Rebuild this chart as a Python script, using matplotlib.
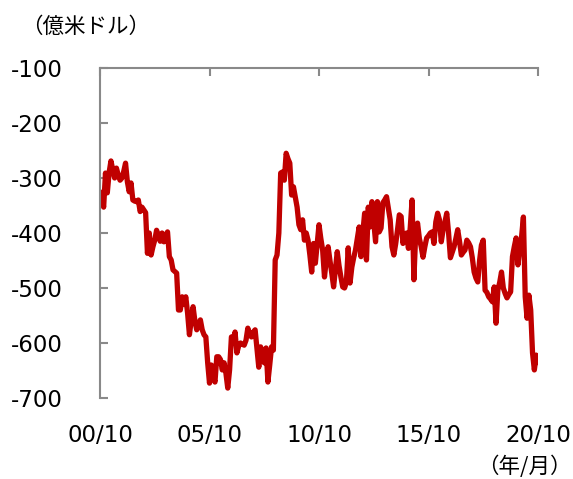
import numpy as np
import matplotlib
matplotlib.use("Agg")
import matplotlib.pyplot as plt

# monthly values, 2000/10 .. 2020/10 (億米ドル)
vals = [
    -327, -335, -353, -291, -327, -290, -269, -285, -300, -282, -295, -304,
    -300, -288, -273, -307, -325, -309, -340, -342, -343, -340, -361, -353,
    -358, -363, -437, -400, -440, -425, -413, -395, -405, -415, -400, -416,
    -405, -398, -443, -449, -467, -470, -473, -540, -540, -516, -530, -516,
    -546, -585, -558, -534, -560, -576, -565, -558, -576, -585, -589, -636,
    -673, -640, -660, -671, -625, -625, -630, -649, -636, -655, -682, -649,
    -589, -595, -580, -618, -605, -600, -602, -604, -595, -573, -585, -589,
    -580, -576, -609, -644, -607, -620, -636, -609, -671, -640, -607, -613,
    -449, -440, -400, -291, -289, -304, -255, -265, -273, -331, -316, -335,
    -353, -385, -394, -376, -413, -400, -413, -440, -471, -419, -455, -420,
    -385, -410, -431, -480, -449, -425, -450, -473, -498, -465, -434, -460,
    -480, -498, -500, -490, -427, -491, -462, -445, -431, -410, -389, -443,
    -400, -364, -449, -353, -389, -343, -380, -416, -343, -398, -391, -345,
    -340, -334, -355, -376, -425, -440, -420, -395, -367, -370, -419, -405,
    -400, -428, -390, -340, -485, -400, -382, -410, -425, -444, -425, -409,
    -405, -400, -398, -419, -380, -364, -376, -416, -394, -380, -364, -400,
    -445, -435, -425, -410, -394, -415, -440, -435, -431, -413, -418, -425,
    -445, -471, -482, -489, -450, -422, -413, -504, -508, -516, -520, -525,
    -498, -564, -504, -490, -471, -500, -510, -518, -512, -507, -443, -425,
    -409, -458, -430, -407, -371, -516, -555, -513, -540, -618, -649, -622,
    -635,
]
tick_labels = ["00/10", "05/10", "10/10", "15/10", "20/10"]
tick_pos = [0, 60, 120, 180, 240]
yticks = [-100, -200, -300, -400, -500, -600, -700]

plt.rcParams['font.family'] = ['DejaVu Sans', 'Noto Sans CJK JP']
grey = '#898989'

fig = plt.figure(figsize=(5.73, 4.79), dpi=100)
ax = fig.add_axes([100/573, 1-398/479, 438/573, 330/479])

ax.plot(np.arange(len(vals)), vals, color='#C00000', lw=3.8, solid_joinstyle='round')

ax.set_xlim(0, 240)
ax.set_ylim(-700, -100)
ax.set_yticks(yticks)
ax.set_yticklabels([str(v) for v in yticks])
ax.set_xticks(tick_pos)
ax.set_xticklabels(tick_labels)

for s in ['right', 'bottom']:
    ax.spines[s].set_visible(False)
for s in ['left', 'top']:
    ax.spines[s].set_color(grey)
    ax.spines[s].set_linewidth(1.5)

ax.tick_params(axis='y', direction='in', length=5.5, width=1.5, color=grey,
               labelsize=16.5, pad=27)
ax.tick_params(axis='x', direction='in', length=5.5, width=1.5, color=grey,
               top=True, bottom=False, labeltop=False, labelbottom=True,
               labelsize=16.5, pad=19)

fig.text(86/573, 1-27/479, "（億米ドル）", ha='center', va='center', fontsize=15.5,
         family=['Noto Sans CJK JP', 'DejaVu Sans'])
fig.text(524/573, 1-467/479, "（年/月）", ha='center', va='center', fontsize=15.5,
         family=['Noto Sans CJK JP', 'DejaVu Sans'])

fig.savefig("out.png", dpi=100)
